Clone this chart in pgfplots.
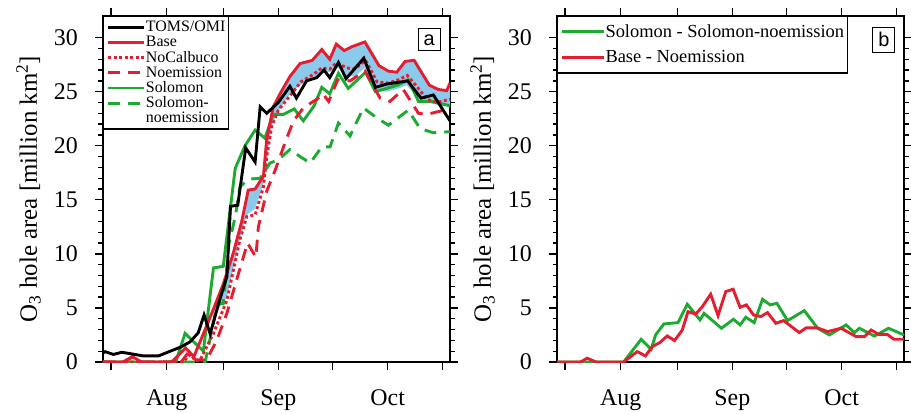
\documentclass[border=0pt]{standalone}
\usepackage{fontspec}
\setmainfont{Liberation Serif}
\newfontfamily\sansf{Liberation Sans}
\usepackage{pgfplots}
\pgfplotsset{compat=1.18}
\definecolor{cred}{RGB}{228,30,48}
\definecolor{cgreen}{RGB}{30,170,50}
\definecolor{cblue}{RGB}{140,202,235}
\pgfplotsset{
  myaxis/.style={
    scale only axis, width=347bp, height=346bp,
    xmin=-17.6, xmax=78.2, ymin=0, ymax=32,
    xtick={-15.4,0,15.6,30.8,45.8,61,76.1},
    xticklabels={,Aug,,Sep,,Oct,},
    ytick={0,5,10,15,20,25,30},
    minor y tick num=4,
    xtick pos=both, ytick pos=both,
    tick align=outside,
    major tick length=8bp, minor tick length=4.5bp,
    every tick/.style={black, line width=1.3bp},
    axis line style={line width=1.6bp},
    /pgf/number format/assume math mode=true,
    tick label style={font=\fontsize{24}{24}\selectfont},
    yticklabel style={anchor=east, inner sep=0pt, xshift=-17bp},
    xticklabel style={anchor=base, inner sep=0pt, yshift=-35bp},
    ylabel={O\textsubscript{3} hole area [million km\textsuperscript{2}]},
    ylabel style={font=\fontsize{25}{25}\selectfont, at={(rel axis cs:-0.1787,0.5)}, anchor=south, inner sep=0pt},
    legend cell align=left,
    clip=true,
  }
}
\begin{document}
\begin{tikzpicture}
\useasboundingbox (-103bp,-52bp) rectangle (808bp,362bp);
% ---------------- panel a
\begin{axis}[myaxis, at={(0,0)}, anchor=south west,
  legend image code/.code={\draw[#1] (0bp,0bp) -- (36bp,0bp);},
  legend style={at={(rel axis cs:0,1)}, anchor=north west, draw=black, line width=1.2bp,
    inner sep=3bp, row sep=0pt,
    nodes={inner sep=0.4bp, text height=11.6bp, text depth=2.8bp, font=\fontsize{16}{16}\selectfont}},
]
\addlegendimage{black, line width=2.9bp}
\addlegendentry{TOMS/OMI}
\addlegendimage{cred, line width=2.9bp}
\addlegendentry{Base}
\addlegendimage{cred, line width=2.9bp, dash pattern=on 3bp off 2.5bp}
\addlegendentry{NoCalbuco}
\addlegendimage{cred, line width=2.9bp, dash pattern=on 12bp off 8bp}
\addlegendentry{Noemission}
\addlegendimage{cgreen, line width=2.9bp}
\addlegendentry{Solomon}
\addlegendimage{cgreen, line width=2.9bp, dash pattern=on 12bp off 8bp}
\addlegendentry{Solomon-}
\addlegendimage{empty legend}
\addlegendentry{noemission}

% shaded Calbuco range (upper = Base, lower edge estimated)
\addplot[fill=cblue, draw=none, forget plot] coordinates {
(12.9,4.9) (15.6,7.2) (18.4,10.1) (20.7,13.0) (22.5,15.9) (24.4,16.0) (26.7,17.2) (27.6,20.6) (29.4,23.6) (31.6,25.0) (34.0,26.4) (36.8,27.6) (40.2,27.9) (42.8,28.9) (45.0,28.0) (46.8,29.4) (49.0,28.8) (51.4,29.2) (54.7,29.6) (58.6,27.4) (61.2,26.9) (63.5,26.8) (65.8,27.8) (68.3,27.9) (72.5,25.6) (75.0,25.2) (77.3,25.1) (78.2,25.8)
(78.2,23.6) (74.5,23.8) (71.8,24.0) (69.0,24.6) (66.2,25.6) (64.0,25.3) (60.7,25.0) (57.9,25.2) (54.7,27.2) (51.9,26.4) (49.6,26.5) (46.9,27.3) (45.1,26.8) (42.8,26.8) (40.0,26.2) (36.8,25.6) (34.0,24.8) (30.8,23.2) (29.0,21.8) (27.6,19.0) (26.7,16.5) (24.4,14.2) (22.1,13.6) (20.2,11.3) (16.6,6.0) (12.9,4.2)
} -- cycle;

% Solomon-noemission
\addplot[cgreen, line width=2.9bp, dash pattern=on 12bp off 8bp, forget plot] coordinates {
(-17.6,0) (10.6,0) (12.5,3.0) (14.0,5.4) (15.6,5.4) (17.2,11.0) (18.9,13.4) (20.2,16.2) (22.5,16.9) (25.8,17.0) (28.5,18.4) (30.8,18.7) (34.0,19.65) (36.8,19.0) (39.6,18.4) (42.8,19.9) (45.1,19.9) (47.4,22.1) (50.6,20.9) (54.3,23.5) (57.9,22.6) (61.2,21.9) (66.7,23.3) (69.9,21.6) (73.6,21.2) (78.2,21.3)
};
% Solomon
\addplot[cgreen, line width=2.9bp, forget plot] coordinates {
(-17.6,0) (2.5,0) (5.05,2.65) (10.1,1.0) (12.9,8.7) (15.6,8.85) (18.9,17.9) (21.6,20.0) (24.4,21.45) (27.1,20.7) (29.4,22.9) (32.2,22.9) (35.2,23.4) (37.7,22.3) (40.7,23.7) (42.8,25.4) (45.0,24.8) (47.4,26.7) (50.1,25.3) (54.9,26.8) (57.6,25.0) (63.7,25.6) (66.7,26.1) (69.5,24.1) (73.1,24.1) (78.2,23.7)
};
% Noemission
\addplot[cred, line width=2.9bp, dash pattern=on 12bp off 8bp, forget plot] coordinates {
(-17.6,0) (-12,0) (-9.5,0.45) (-7,0) (4.0,0) (6.0,0.9) (8.0,0.2) (11.0,0.2) (13.8,2.0) (16.6,4.5) (19.3,7.6) (22.3,11.0) (24.6,9.7) (25.3,12.5) (27.6,15.8) (30.0,17.8) (33.0,20.6) (35.0,22.3) (37.7,23.5) (41.4,24.3) (43.1,24.8) (44.7,24.1) (47.2,26.1) (50.6,26.0) (54.7,26.9) (58.9,24.4) (61.6,24.1) (65.3,25.2) (69.5,23.0) (71.8,22.9) (75.5,23.2) (78.2,23.5)
};
% NoCalbuco
\addplot[cred, line width=2.9bp, dash pattern=on 3bp off 2.5bp, forget plot] coordinates {
(-17.6,0) (4.5,0) (6.5,0.7) (8.0,0.1) (9.2,0.2) (12.9,2.65) (16.6,5.7) (20.2,11.3) (22.1,13.45) (24.4,13.6) (26.7,16.2) (27.6,19.0) (29.0,21.8) (30.8,23.3) (34.0,24.6) (37.0,25.9) (40.5,26.6) (42.8,27.2) (45.1,27.1) (46.9,27.7) (49.6,27.2) (51.9,27.1) (54.9,27.9) (58.1,25.9) (61.1,25.8) (64.0,26.1) (66.4,26.5) (69.0,25.5) (71.8,24.3) (74.5,24.0) (78.2,24.3)
};
% Base
\addplot[cred, line width=2.9bp, forget plot] coordinates {
(-17.6,0) (-12,0) (-9.5,0.5) (-7,0) (1.4,0) (5.2,1.3) (7.5,0.5) (10.6,3.0) (12.9,4.9) (15.6,7.2) (18.4,10.1) (20.7,13.0) (22.5,15.9) (24.4,16.0) (26.7,17.2) (27.6,20.6) (29.4,23.6) (31.6,25.0) (34.0,26.4) (36.8,27.6) (40.2,27.9) (42.8,28.9) (45.0,28.0) (46.8,29.4) (49.0,28.8) (51.4,29.2) (54.7,29.6) (58.6,27.4) (61.2,26.9) (63.5,26.8) (65.8,27.8) (68.3,27.9) (72.5,25.6) (75.0,25.2) (77.3,25.1) (78.2,25.8)
};
% TOMS/OMI
\addplot[black, line width=2.9bp, forget plot] coordinates {
(-17.6,0.85) (-17.0,0.95) (-14.7,0.7) (-12.4,0.9) (-9.7,0.75) (-6.45,0.56) (-2.3,0.56) (0.0,0.87) (3.7,1.36) (6.4,1.85) (8.7,2.7) (10.3,4.35) (12.0,2.6) (14.4,5.5) (16.6,7.9) (17.6,14.4) (19.6,14.5) (21.8,19.8) (24.4,18.5) (25.8,23.6) (27.6,23.0) (30.8,24.0) (34.0,25.5) (35.8,24.4) (38.6,26.0) (41.4,26.3) (43.4,27.0) (45.0,26.3) (47.4,27.7) (49.5,26.2) (54.4,28.1) (57.6,25.4) (60.7,25.7) (66.5,26.0) (70.2,24.4) (73.6,24.7) (78.2,22.3)
};
\node[draw, line width=1bp, fill=white, inner sep=5.5bp, anchor=east,
  font=\sansf\fontsize{20}{20}\selectfont] at (rel axis cs:0.973,0.931) {a};
\end{axis}
% ---------------- panel b
\begin{axis}[myaxis, at={(454bp,0)}, anchor=south west,
  legend image code/.code={\draw[#1] (0bp,0bp) -- (42bp,0bp);},
  legend style={at={(rel axis cs:0,1)}, anchor=north west, draw=black, line width=1.2bp,
    inner sep=2.5bp, row sep=0pt,
    nodes={inner sep=0.5bp, text height=17.5bp, text depth=7.2bp, font=\fontsize{18.5}{18.5}\selectfont}},
]
\addlegendimage{cgreen, line width=2.9bp}
\addlegendentry{Solomon - Solomon-noemission}
\addlegendimage{cred, line width=2.9bp}
\addlegendentry{Base - Noemission}
\addplot[cgreen, line width=2.9bp, forget plot] coordinates {
(-17.6,0) (0.8,0) (5.64,2.1) (8.41,1.17) (9.61,2.5) (11.91,3.52) (15.79,3.64) (18.37,5.34) (21.88,3.89) (22.99,4.5) (27.79,3.12) (31.11,3.95) (32.95,3.43) (34.52,4.14) (36.83,3.64) (39.14,5.8) (41.26,5.28) (43.1,5.43) (46.06,3.83) (50.67,4.75) (54.36,3.12) (57.6,2.5) (62.2,3.43) (64.5,2.72) (65.9,3.12) (70.05,2.4) (73.93,3.12) (78.2,2.5)
};
\addplot[cred, line width=2.9bp, forget plot] coordinates {
(-17.6,0) (-11.1,0) (-9.3,0.35) (-6.8,0) (0.8,0) (4.53,0.96) (6.84,0.56) (8.68,1.42) (10.8,1.8) (12.84,2.41) (14.87,1.98) (16.99,2.96) (18.56,4.66) (20.68,4.44) (22.53,5.12) (24.83,6.27) (26.86,4.29) (28.99,6.51) (31.02,6.73) (32.95,5.06) (34.71,5.28) (36.65,4.35) (38.68,4.2) (40.52,4.57) (42.83,3.58) (44.95,3.83) (49.29,2.72) (51.14,3.15) (54.36,3.15) (57.13,2.81) (60.83,3.12) (64.98,2.35) (67.28,2.35) (69.13,2.96) (71.16,2.56) (73.56,2.56) (75.41,2.1) (78.2,2.1)
};
\node[draw, line width=1bp, fill=white, inner sep=5.5bp, anchor=east,
  font=\sansf\fontsize{20}{20}\selectfont] at (rel axis cs:0.975,0.931) {b};
\end{axis}
\end{tikzpicture}
\end{document}
